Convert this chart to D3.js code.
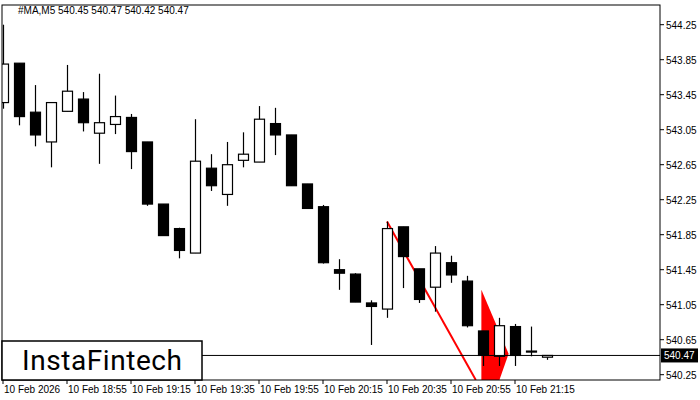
<!DOCTYPE html>
<html><head><meta charset="utf-8">
<script src="https://cdn.jsdelivr.net/npm/d3@7"></script>
<style>body{margin:0;background:#fff}svg{display:block;font-family:"Liberation Sans",Arial,sans-serif}</style>
</head><body><svg id="chart" width="700" height="400"></svg>
<script>
// M5 candles, 18:35 .. 21:25
const opens  = [543.36,543.81,543.25,542.91,543.26,543.40,543.01,543.11,543.19,542.91,542.20,541.92,541.64,542.61,542.31,542.70,542.68,543.12,542.99,542.43,542.17,541.45,541.40,541.07,541.00,541.94,541.46,541.25,541.53,541.32,540.75,540.46,540.80,540.52,540.45];
const highs  = [544.25,543.81,543.56,543.36,543.79,543.48,543.69,543.44,543.23,542.91,542.20,541.93,543.17,542.77,542.91,543.02,543.32,543.30,542.99,542.43,542.19,541.57,541.41,541.10,542.00,541.94,541.46,541.72,541.61,541.38,540.75,540.90,540.83,540.80,540.47];
const lows   = [543.29,543.10,542.86,542.62,543.26,543.03,542.66,543.00,542.60,542.18,541.84,541.58,541.64,542.35,542.18,542.62,542.68,542.76,542.41,542.15,541.52,541.22,541.08,540.59,540.90,541.24,541.07,540.97,541.30,540.79,540.35,540.35,540.35,540.46,540.42];
const closes = [543.80,543.20,542.99,543.36,543.49,543.13,543.13,543.20,542.80,542.20,541.84,541.67,542.69,542.41,542.65,542.77,543.17,542.99,542.41,542.15,541.53,541.41,541.08,541.03,541.92,541.60,541.11,541.64,541.39,540.81,540.47,540.81,540.47,540.51,540.47];
const timeLabels = ["10 Feb 2026","10 Feb 18:55","10 Feb 19:15","10 Feb 19:35","10 Feb 19:55","10 Feb 20:15","10 Feb 20:35","10 Feb 20:55","10 Feb 21:15"];
const priceTicks = [544.25,543.85,543.45,543.05,542.65,542.25,541.85,541.45,541.05,540.65,540.25];
const lastPrice = 540.47;
// pattern marks: trend line [index, price] and pennant [index, price]
const trendLine = [[24,542.00],[29.55,540.19]];
const pennant = [[29.9,541.22],[31.6,540.49],[29.9,539.6]];

const svg = d3.select("#chart");
const L = 2, R = 660, T = 5, B = 380;
const x = d3.scaleLinear().domain([0,1]).range([3,19]);
const y = d3.scaleLinear().domain([540.25,544.25]).range([374.7,24.7]);

svg.append("defs").append("clipPath").attr("id","plot")
  .append("rect").attr("x",L).attr("y",T).attr("width",R-L).attr("height",B-T);
const g = svg.append("g").attr("clip-path","url(#plot)");

// pennant pattern
g.append("line").attr("x1",x(trendLine[0][0])).attr("y1",y(trendLine[0][1]))
  .attr("x2",x(trendLine[1][0])).attr("y2",y(trendLine[1][1]))
  .attr("stroke","red").attr("stroke-width",2);
g.append("path").attr("d",d3.line().x(d=>x(d[0])).y(d=>y(d[1]))(pennant)+"Z").attr("fill","red");

// candles
const idx = d3.range(opens.length);
g.selectAll(".wick").data(idx).join("line")
  .attr("x1",i=>x(i)+0.5).attr("x2",i=>x(i)+0.5)
  .attr("y1",i=>y(highs[i])).attr("y2",i=>y(lows[i]))
  .attr("stroke","#000").attr("stroke-width",1.2);
g.selectAll(".body").data(idx).join("rect")
  .attr("x",i=>x(i)-4.5).attr("width",10)
  .attr("y",i=>y(Math.max(opens[i],closes[i])))
  .attr("height",i=>Math.max(1,Math.abs(y(opens[i])-y(closes[i]))))
  .attr("fill",i=>closes[i]>=opens[i]?"#fff":"#000")
  .attr("stroke","#000").attr("stroke-width",1.2);

// last price line
svg.append("line").attr("x1",L).attr("x2",R).attr("y1",y(lastPrice)).attr("y2",y(lastPrice)).attr("stroke","#000");

// frame
svg.append("rect").attr("x",L).attr("y",T).attr("width",R-L).attr("height",B-T)
  .attr("fill","none").attr("stroke","#000");

// right axis
const ya = svg.append("g");
priceTicks.forEach(p=>{
  ya.append("line").attr("x1",R).attr("x2",R+4).attr("y1",y(p)).attr("y2",y(p)).attr("stroke","#000");
  ya.append("text").attr("x",R+6).attr("y",y(p)+4).attr("font-size",10).text(p.toFixed(2));
});
ya.append("rect").attr("x",R+1).attr("y",y(lastPrice)-7).attr("width",37).attr("height",14).attr("fill","#000");
ya.append("text").attr("x",R+4).attr("y",y(lastPrice)+4).attr("font-size",10).attr("fill","#fff").text(lastPrice.toFixed(2));

// bottom axis
timeLabels.forEach((t,k)=>{
  const xp = x(k*4);
  svg.append("line").attr("x1",xp).attr("x2",xp).attr("y1",B).attr("y2",B+4).attr("stroke","#000");
  svg.append("text").attr("x",xp+1).attr("y",B+13).attr("font-size",10).text(t);
});

// header
svg.append("text").attr("x",18).attr("y",14).attr("font-size",10)
  .text("#MA,M5  "+[opens.at(-1),highs.at(-1),lows.at(-1),closes.at(-1)].map(v=>v.toFixed(2)).join(" "));

// logo
svg.append("rect").attr("x",2).attr("y",341).attr("width",200).attr("height",39).attr("fill","#fff").attr("stroke","#000").attr("stroke-width",1.5);
svg.append("text").attr("x",102).attr("y",370).attr("text-anchor","middle").attr("font-size",28)
  .attr("font-family","Roboto, sans-serif").attr("textLength",160).text("InstaFintech");
</script></body></html>
